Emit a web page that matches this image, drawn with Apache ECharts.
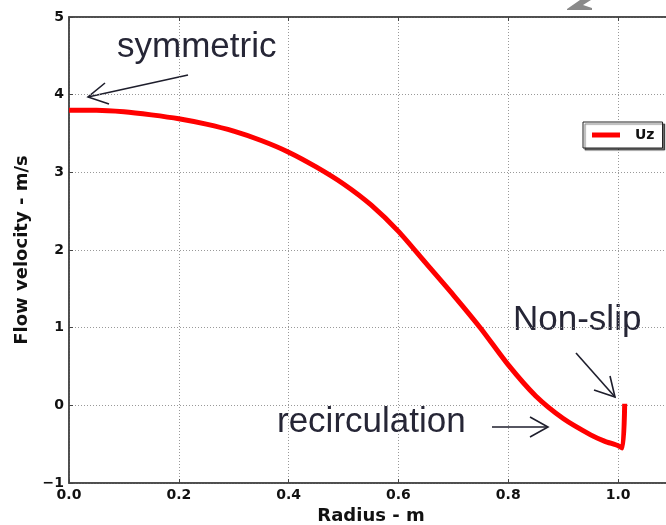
<!DOCTYPE html>
<html>
<head>
<meta charset="utf-8">
<script src="https://cdn.jsdelivr.net/npm/echarts@6/dist/echarts.min.js"></script>
<style>
html,body{margin:0;padding:0;background:#fff;}
#chart{width:666px;height:525px;}
</style>
</head>
<body>
<div id="chart"></div>
<script>
// Data
const radius = [0.00, 0.05, 0.10, 0.15, 0.20, 0.25, 0.30, 0.35, 0.40, 0.45, 0.50, 0.55, 0.60, 0.65, 0.70, 0.75, 0.80, 0.85, 0.90, 0.95, 0.975, 1.00, 1.008, 1.012];
const uz     = [3.80, 3.80, 3.78, 3.74, 3.69, 3.62, 3.53, 3.41, 3.26, 3.07, 2.85, 2.58, 2.24, 1.83, 1.42, 0.99, 0.52, 0.12, -0.17, -0.38, -0.46, -0.52, -0.55, 0.02];
const seriesName = 'Uz';
const xTicks = [0.0, 0.2, 0.4, 0.6, 0.8, 1.0];
const yTicks = [-1, 0, 1, 2, 3, 4, 5];
const xTitle = 'Radius - m';
const yTitle = 'Flow velocity - m/s';
const notes = ['symmetric', 'Non-slip', 'recirculation'];

const points = radius.map((r, i) => [r, uz[i]]);
const chart = echarts.init(document.getElementById('chart'));
const tickFont = {fontFamily: 'DejaVu Sans', fontWeight: 'bold', fontSize: 14, color: '#111'};
const nameFont = {fontFamily: 'DejaVu Sans', fontWeight: 'bold', fontSize: 18, color: '#111'};
const annColor = '#262636';
const arrowStyle = {stroke: '#1e1e2c', lineWidth: 1.6, fill: null};

const option = {
  animation: false,
  backgroundColor: '#fff',
  grid: {left: 69, top: 17, width: 604, bottom: 42, containLabel: false, outerBoundsMode: 'none',
         show: true, borderColor: '#444', borderWidth: 1.5, backgroundColor: 'transparent'},
  legend: {
    data: [seriesName],
    left: 583, top: 122,
    orient: 'vertical',
    icon: 'rect', itemWidth: 28, itemHeight: 5,
    padding: [6, 8, 6, 9],
    backgroundColor: '#fff', borderColor: '#222', borderWidth: 1,
    shadowColor: 'rgba(0,0,0,0.55)', shadowBlur: 1, shadowOffsetX: 2, shadowOffsetY: 2,
    textStyle: {fontFamily: 'DejaVu Sans', fontWeight: 'bold', fontSize: 14, color: '#111', padding: [0, 0, 0, 10]}
  },
  xAxis: [{
    type: 'value', min: 0, max: 1.1, interval: 0.2,
    name: xTitle, nameLocation: 'middle', nameGap: 22,
    nameTextStyle: nameFont,
    axisLine: {show: true, onZero: false, lineStyle: {color: '#444', width: 1.5}},
    axisTick: {show: true, inside: true, length: 4, lineStyle: {color: '#444', width: 1}},
    axisLabel: Object.assign({margin: 5, showMaxLabel: false, formatter: v => xTicks.includes(Math.round(v*10)/10) ? v.toFixed(1) : ''}, tickFont),
    splitLine: {show: true, lineStyle: {color: '#999', width: 1, type: [1, 2]}}
  }, {
    type: 'value', min: 0, max: 1.1, interval: 0.2, position: 'top',
    axisLine: {show: true, onZero: false, lineStyle: {color: '#444', width: 1.5}},
    axisTick: {show: true, inside: true, length: 4, lineStyle: {color: '#444', width: 1}},
    axisLabel: {show: false}, splitLine: {show: false}
  }],
  yAxis: [{
    type: 'value', min: yTicks[0], max: yTicks[yTicks.length-1], interval: 1,
    name: yTitle, nameLocation: 'middle', nameGap: 35,
    nameTextStyle: nameFont,
    axisLine: {show: true, onZero: false, lineStyle: {color: '#444', width: 1.5}},
    axisTick: {show: true, inside: true, length: 4, lineStyle: {color: '#444', width: 1}},
    axisLabel: Object.assign({margin: 5, formatter: v => v < 0 ? '\u2212' + Math.abs(v) : String(v)}, tickFont),
    splitLine: {show: true, lineStyle: {color: '#999', width: 1, type: [1, 2]}}
  }],
  series: [{
    name: seriesName, type: 'line', data: points,
    xAxisIndex: 0, yAxisIndex: 0,
    showSymbol: false, symbol: 'none',
    smooth: 0.25,
    lineStyle: {color: '#ff0000', width: 5, join: 'round', cap: 'butt'},
    itemStyle: {color: '#ff0000'}
  }],
  graphic: [
    {type: 'text', left: 117, top: 30, style: {text: notes[0], font: '35px "Liberation Sans", Arial, sans-serif', fill: annColor}},
    {type: 'text', left: 513, top: 303, style: {text: notes[1], font: '35px "Liberation Sans", Arial, sans-serif', fill: annColor}},
    {type: 'text', left: 277, top: 405, style: {text: notes[2], font: '35px "Liberation Sans", Arial, sans-serif', fill: annColor}},
    // symmetric arrow
    {type: 'line', shape: {x1: 188, y1: 75, x2: 88, y2: 97}, style: arrowStyle},
    {type: 'polyline', shape: {points: [[105, 83], [88, 97], [109, 104]]}, style: arrowStyle},
    // non-slip arrow
    {type: 'line', shape: {x1: 576, y1: 353, x2: 615, y2: 397}, style: arrowStyle},
    {type: 'polyline', shape: {points: [[610, 376], [615, 397], [594, 390]]}, style: arrowStyle},
    // recirculation arrow
    {type: 'line', shape: {x1: 492, y1: 427, x2: 548, y2: 427}, style: arrowStyle},
    {type: 'polyline', shape: {points: [[530, 417], [548, 427], [530, 437]]}, style: arrowStyle},
    // grey arrow fragment at top
    {type: 'polygon', shape: {points: [[567, 9], [580, 0], [591, 0], [583, 5], [592, 8], [592, 10], [567, 10]]}, style: {fill: '#8a8a8a'}}
  ]
};
chart.setOption(option);
</script>
</body>
</html>
